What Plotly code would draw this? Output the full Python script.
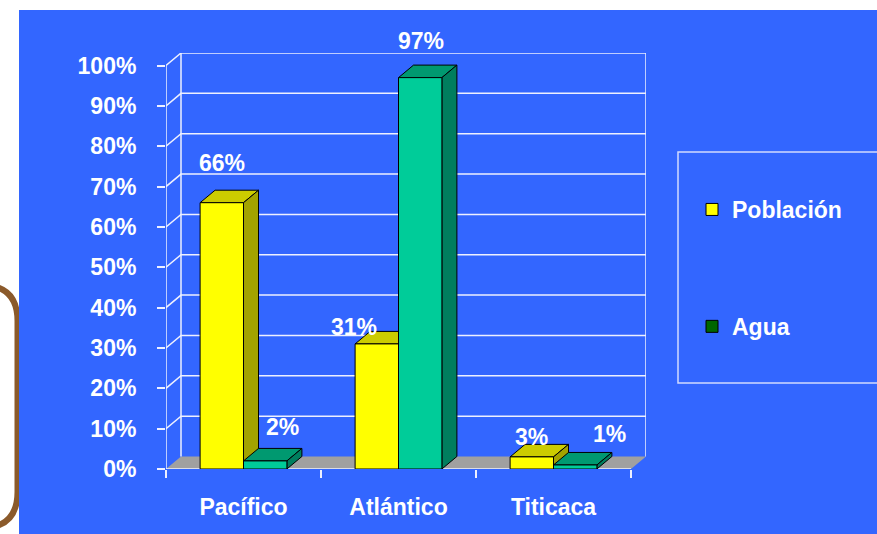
import plotly.graph_objects as go

# ---------------- data ----------------
categories = ["Pacífico", "Atlántico", "Titicaca"]
poblacion = [66, 31, 3]
agua = [2, 97, 1]
series_names = ["Población", "Agua"]
y_ticks = [0, 10, 20, 30, 40, 50, 60, 70, 80, 90, 100]

# ---------------- geometry / style ----------------
W, H = 877, 534
ML, MR, MT, MB = 166, 231, 53, 65
PW, PH = W - ML - MR, H - MT - MB

DX = 0.0968      # depth of the 3-D effect, category units
DY = 3.1         # depth of the 3-D effect, value units
BW = 0.28        # bar width, category units
XMIN = -0.5
XEND = len(categories) - 0.5
XMAX = XEND + DX
YMAX = 100 + DY

FONT = "Liberation Sans, Arial, sans-serif"
WHITE = "#FFFFFF"
GRID = "#EEF0FF"
BLUE = "#3366FF"

styles = {
    "Población": dict(front="#FFFF00", top="#CCCC00", side="#A3A300", legend="#FFFF00", offset=-BW),
    "Agua": dict(front="#00CC99", top="#009970", side="#007E5E", legend="#006600", offset=0.0),
}
# data-label offsets (pixels) relative to the front-top centre of each bar
label_shift = {
    "Población": [(0, 40), (-23, 17), (0, 20)],
    "Agua": [(17, 34), (1, 37), (34, 31)],
}


def pxx(p):
    return (p - ML) / PW


def pxy(p):
    return (H - MB - p) / PH


fig = go.Figure()

# floor
fig.add_trace(go.Scatter(
    x=[XMIN, XEND, XMAX, XMIN + DX, XMIN],
    y=[0, 0, DY, DY, 0],
    fill="toself", fillcolor="#A0A0A0", mode="lines", line=dict(width=0, color="#A0A0A0"),
    hoverinfo="skip", showlegend=False))

# back-wall and side-wall grid lines
gx, gy = [], []
for v in y_ticks[1:]:
    gx += [XMIN, XMIN + DX, XMAX, None]
    gy += [v, v + DY, v + DY, None]
gx += [XMIN + DX, XMIN + DX, None, XMAX, XMAX, None]
gy += [DY, YMAX, None, DY, YMAX, None]
# front value axis and category axis
gx += [XMIN, XMIN, None, XMIN, XEND, None]
gy += [100, 0, None, 0, 0, None]
fig.add_trace(go.Scatter(x=gx, y=gy, mode="lines", line=dict(color=GRID, width=1.5),
                         hoverinfo="skip", showlegend=False, cliponaxis=False))

# 3-D bars: top, side and front faces computed from the values
for name, vals in zip(series_names, [poblacion, agua]):
    st = styles[name]
    fx, fy, tx, ty, sx, sy = [], [], [], [], [], []
    for i, v in enumerate(vals):
        x0 = i + st["offset"]
        x1 = x0 + BW
        fx += [x0, x1, x1, x0, x0, None]
        fy += [0, 0, v, v, 0, None]
        tx += [x0, x1, x1 + DX, x0 + DX, x0, None]
        ty += [v, v, v + DY, v + DY, v, None]
        sx += [x1, x1 + DX, x1 + DX, x1, x1, None]
        sy += [0, DY, v + DY, v, 0, None]
    for xs, ys, col in [(tx, ty, st["top"]), (sx, sy, st["side"]), (fx, fy, st["front"])]:
        fig.add_trace(go.Scatter(
            x=xs, y=ys, fill="toself", fillcolor=col, mode="lines",
            line=dict(color="#000000", width=1), hoverinfo="skip", showlegend=False,
            cliponaxis=False))
    # data labels
    for i, v in enumerate(vals):
        sxp, syp = label_shift[name][i]
        fig.add_annotation(
            x=i + st["offset"] + BW / 2, y=v, text=f"{v}%", showarrow=False,
            xanchor="center", yanchor="middle", xshift=sxp, yshift=syp,
            font=dict(family=FONT, size=23, color=WHITE, weight="bold"))

# legend entries
for gi, name in enumerate(series_names):
    fig.add_trace(go.Scatter(
        x=[None], y=[None], mode="markers", name=name, legendgroup=f"g{gi}",
        marker=dict(symbol="square", size=12, color=styles[name]["legend"],
                    line=dict(color="#000000", width=1))))

shapes = [
    # rounded brown frame on the far left (partly hidden)
    dict(type="path", xref="paper", yref="paper", layer="below",
         path=(f"M {pxx(-40)} {pxy(285)} L {pxx(-18.5)} {pxy(285)} "
               f"Q {pxx(17.5)} {pxy(285)} {pxx(17.5)} {pxy(321)} "
               f"L {pxx(17.5)} {pxy(492)} Q {pxx(17.5)} {pxy(528)} {pxx(-18.5)} {pxy(528)} "
               f"L {pxx(-40)} {pxy(528)}"),
         line=dict(color="#8B5A2B", width=6)),
    # blue slide background
    dict(type="rect", xref="paper", yref="paper", layer="below",
         x0=pxx(19), x1=pxx(W + 20), y0=pxy(H + 20), y1=pxy(10),
         fillcolor=BLUE, line=dict(width=0)),
    # legend frame
    dict(type="rect", xref="paper", yref="paper", layer="below",
         x0=pxx(678), x1=pxx(W + 20), y0=pxy(383), y1=pxy(152),
         fillcolor="rgba(0,0,0,0)", line=dict(color="#D2DAFF", width=1.5)),
]

fig.update_layout(
    width=W, height=H,
    margin=dict(l=ML, r=MR, t=MT, b=MB, pad=0),
    paper_bgcolor="#FFFFFF", plot_bgcolor="rgba(0,0,0,0)",
    shapes=shapes,
    showlegend=True,
    legend=dict(x=pxx(692), y=pxy(188), xanchor="left", yanchor="top",
                bgcolor="rgba(0,0,0,0)", borderwidth=0, tracegroupgap=84,
                font=dict(family=FONT, size=23, color=WHITE, weight="bold"),
                itemclick=False, itemdoubleclick=False),
    xaxis=dict(range=[XMIN, XMAX], tickvals=list(range(len(categories))), ticktext=categories,
               ticks="", showgrid=False, zeroline=False, showline=False,
               ticklabelstandoff=22,
               tickfont=dict(family=FONT, size=23, color=WHITE, weight="bold"),
               minor=dict(tickvals=[k - 0.5 for k in range(len(categories) + 1)],
                          ticks="outside", ticklen=8, tickcolor=GRID, tickwidth=1.5,
                          showgrid=False)),
    yaxis=dict(range=[0, YMAX], tickvals=y_ticks, ticktext=[f"{v}%" for v in y_ticks],
               ticks="outside", ticklen=8, tickcolor=GRID, tickwidth=1.5,
               showgrid=False, zeroline=False, showline=False,
               ticklabelstandoff=16,
               tickfont=dict(family=FONT, size=23, color=WHITE, weight="bold")),
)

fig.write_html("out.html")
